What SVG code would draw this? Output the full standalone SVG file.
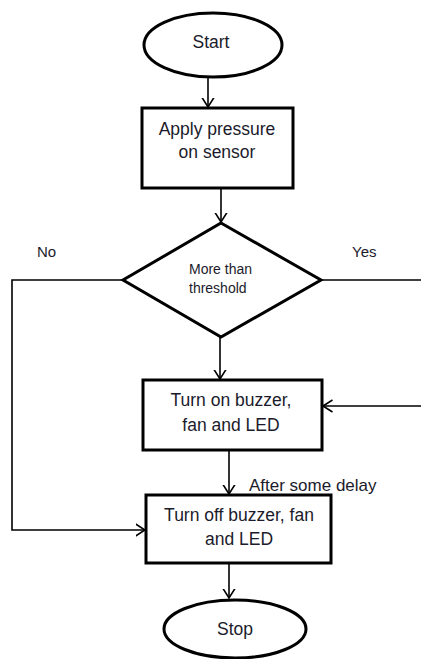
<svg xmlns="http://www.w3.org/2000/svg" width="421" height="659" viewBox="0 0 421 659">
<defs>
<style>
.shape{fill:#fff;stroke:#000;stroke-width:3}
.conn{fill:none;stroke:#000;stroke-width:1.6}
.t{font-family:"Liberation Sans",Arial,sans-serif;font-size:17.5px;fill:#1b1b2b;text-anchor:middle}
.s{font-family:"Liberation Sans",Arial,sans-serif;font-size:14px;fill:#1b1b2b}
.l{font-family:"Liberation Sans",Arial,sans-serif;font-size:15px;fill:#1b1b2b}
</style>
<marker id="arr" viewBox="0 0 10 14" refX="9.5" refY="7" markerWidth="10" markerHeight="14" markerUnits="userSpaceOnUse" orient="auto">
<path d="M0,1 L9.5,7 L0,13" fill="none" stroke="#000" stroke-width="1.6"/>
</marker>
</defs>
<rect width="421" height="659" fill="#fff"/>
<g id="connectors">
<line class="conn" x1="208" y1="77" x2="208" y2="107" marker-end="url(#arr)"/>
<line class="conn" x1="221" y1="188" x2="221" y2="222" marker-end="url(#arr)"/>
<line class="conn" x1="220" y1="337" x2="220" y2="379" marker-end="url(#arr)"/>
<polyline class="conn" points="123,280 12,280 12,530 145,530" marker-end="url(#arr)"/>
<line class="conn" x1="321" y1="280" x2="421" y2="280"/>
<line class="conn" x1="421" y1="406" x2="323" y2="406" marker-end="url(#arr)"/>
<line class="conn" x1="229" y1="450" x2="229" y2="494" marker-end="url(#arr)"/>
<line class="conn" x1="229" y1="563" x2="229" y2="598" marker-end="url(#arr)"/>
<text class="l" x="37" y="257">No</text>
<text class="l" x="352" y="257">Yes</text>
<text class="t" x="249" y="491" style="text-anchor:start;font-size:17px">After some delay</text>
</g>
<g id="start">
<ellipse class="shape" cx="213" cy="45" rx="69" ry="32"/>
<text class="t" x="211" y="48">Start</text>
</g>
<g id="apply">
<rect class="shape" x="142" y="108" width="151" height="80"/>
<text class="t" x="217" y="135">Apply pressure</text>
<text class="t" x="217" y="158">on sensor</text>
</g>
<g id="decision">
<polygon class="shape" points="221,223 321,280 221,337 123,280"/>
<text class="s" x="189" y="274">More than</text>
<text class="s" x="189" y="293">threshold</text>
</g>
<g id="turnon">
<rect class="shape" x="143" y="380" width="179" height="70"/>
<text class="t" x="231" y="406">Turn on buzzer,</text>
<text class="t" x="231" y="431">fan and LED</text>
</g>
<g id="turnoff">
<rect class="shape" x="146" y="495" width="185" height="68"/>
<text class="t" x="239" y="521">Turn off buzzer, fan</text>
<text class="t" x="239" y="545">and LED</text>
</g>
<g id="stop">
<ellipse class="shape" cx="235" cy="629" rx="71" ry="29"/>
<text class="t" x="235" y="635">Stop</text>
</g>
</svg>
